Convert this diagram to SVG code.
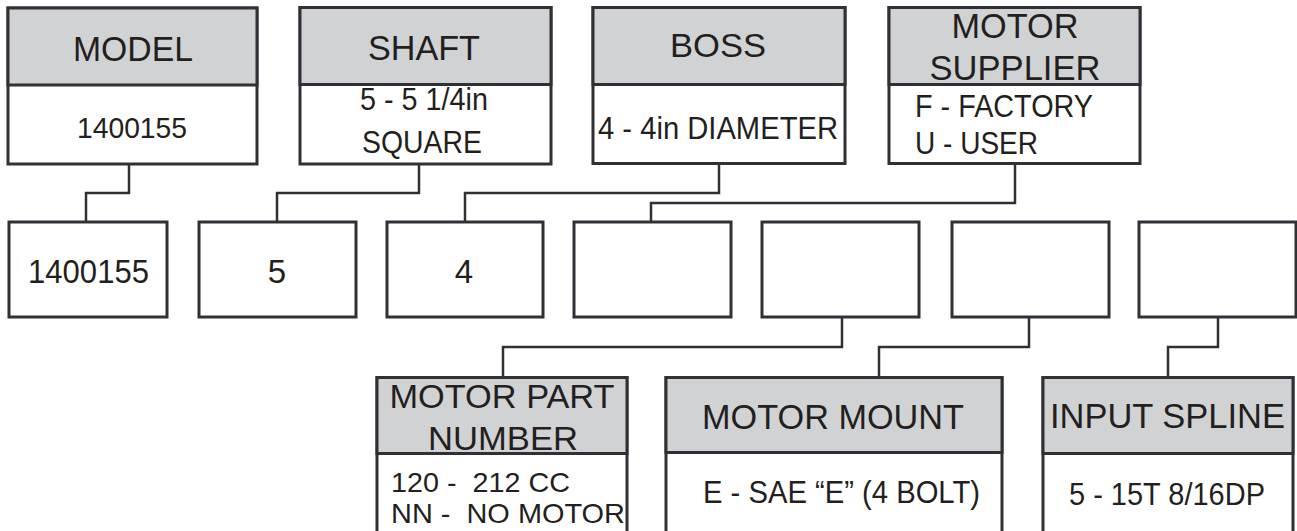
<svg xmlns="http://www.w3.org/2000/svg" width="1297" height="531" viewBox="0 0 1297 531">
<style>
.box{fill:#ffffff;stroke:#2f3136;stroke-width:3}
.hdr{fill:#d1d2d4;stroke:#2f3136;stroke-width:3}
.con{fill:none;stroke:#2f3136;stroke-width:2.5}
text{font-family:"Liberation Sans",Arial,sans-serif;fill:#231f20}
.h{font-size:35px;text-anchor:middle}
.b{font-size:32px;text-anchor:middle}
.bl{font-size:32px}
.r{font-size:33px;text-anchor:middle}
</style>
<rect width="1297" height="531" fill="#ffffff"/>
<g id="connectors">
<path class="con" d="M129,164 V193 H86 V222"/>
<path class="con" d="M419,164 V193 H277 V222"/>
<path class="con" d="M719,163 V193 H465 V222"/>
<path class="con" d="M1015,163 V203 H651 V222"/>
<path class="con" d="M842,317 V347 H503 V377"/>
<path class="con" d="M1029,317 V347 H879 V377"/>
<path class="con" d="M1218,317 V347 H1168 V377"/>
</g>
<g id="model">
<rect class="box" x="8" y="8" width="249" height="156"/>
<rect class="hdr" x="8" y="8" width="249" height="77"/>
<text class="h" x="133" y="61" textLength="120" lengthAdjust="spacingAndGlyphs">MODEL</text>
<text class="b" x="132" y="138" style="font-size:30px" textLength="110" lengthAdjust="spacingAndGlyphs">1400155</text>
</g>
<g id="shaft">
<rect class="box" x="300" y="7.5" width="251" height="156.5"/>
<rect class="hdr" x="300" y="7.5" width="251" height="77"/>
<text class="h" x="424" y="60" textLength="112" lengthAdjust="spacingAndGlyphs">SHAFT</text>
<text class="b" x="424" y="110" textLength="128" lengthAdjust="spacingAndGlyphs">5 - 5 1/4in</text>
<text class="b" x="422" y="153" textLength="120" lengthAdjust="spacingAndGlyphs">SQUARE</text>
</g>
<g id="boss">
<rect class="box" x="593" y="7.5" width="252" height="156"/>
<rect class="hdr" x="593" y="7.5" width="252" height="77"/>
<text class="h" x="718" y="57" style="font-size:33px" textLength="96" lengthAdjust="spacingAndGlyphs">BOSS</text>
<text class="b" x="718" y="139" textLength="240" lengthAdjust="spacingAndGlyphs">4 - 4in DIAMETER</text>
</g>
<g id="motor-supplier">
<rect class="box" x="889" y="7.5" width="251" height="156"/>
<rect class="hdr" x="889" y="7.5" width="251" height="77"/>
<text class="h" x="1015" y="38" textLength="127" lengthAdjust="spacingAndGlyphs">MOTOR</text>
<text class="h" x="1015" y="80" textLength="171" lengthAdjust="spacingAndGlyphs">SUPPLIER</text>
<text class="bl" x="915" y="117" textLength="178" lengthAdjust="spacingAndGlyphs">F - FACTORY</text>
<text class="bl" x="915" y="154" textLength="123" lengthAdjust="spacingAndGlyphs">U - USER</text>
</g>
<g id="code-1">
<rect class="box" x="9" y="222" width="158" height="95"/>
<text class="r" x="88.5" y="283" textLength="121" lengthAdjust="spacingAndGlyphs">1400155</text>
</g>
<g id="code-2">
<rect class="box" x="199" y="222" width="157" height="95"/>
<text class="r" x="277" y="283">5</text>
</g>
<g id="code-3">
<rect class="box" x="387" y="222" width="156" height="95"/>
<text class="r" x="464" y="283">4</text>
</g>
<g id="code-4">
<rect class="box" x="574" y="222" width="157" height="95"/>
</g>
<g id="code-5">
<rect class="box" x="762" y="222" width="157" height="95"/>
</g>
<g id="code-6">
<rect class="box" x="952" y="222" width="157" height="95"/>
</g>
<g id="code-7">
<rect class="box" x="1139" y="222" width="157" height="95"/>
</g>
<g id="motor-part-number">
<rect class="box" x="377" y="377.5" width="250" height="170"/>
<rect class="hdr" x="377" y="377.5" width="250" height="76"/>
<text class="h" x="502" y="408" style="font-size:34px" textLength="225" lengthAdjust="spacingAndGlyphs">MOTOR PART</text>
<text class="h" x="503" y="450" style="font-size:34px" textLength="150" lengthAdjust="spacingAndGlyphs">NUMBER</text>
<text class="bl" x="391" y="491.5" style="font-size:28px" xml:space="preserve" textLength="179" lengthAdjust="spacingAndGlyphs">120 -  212 CC</text>
<text class="bl" x="391" y="523" style="font-size:28px" xml:space="preserve" textLength="234" lengthAdjust="spacingAndGlyphs">NN -  NO MOTOR</text>
</g>
<g id="motor-mount">
<rect class="box" x="666" y="377.5" width="336" height="170"/>
<rect class="hdr" x="666" y="377.5" width="336" height="75"/>
<text class="h" x="833" y="429" textLength="262" lengthAdjust="spacingAndGlyphs">MOTOR MOUNT</text>
<text class="b" x="841.5" y="503" textLength="277" lengthAdjust="spacingAndGlyphs">E - SAE “E” (4 BOLT)</text>
</g>
<g id="input-spline">
<rect class="box" x="1043" y="377.5" width="250" height="170"/>
<rect class="hdr" x="1043" y="377.5" width="250" height="76"/>
<text class="h" x="1167.5" y="428" textLength="235" lengthAdjust="spacingAndGlyphs">INPUT SPLINE</text>
<text class="b" x="1167" y="505" textLength="196" lengthAdjust="spacingAndGlyphs">5 - 15T 8/16DP</text>
</g>
</svg>
